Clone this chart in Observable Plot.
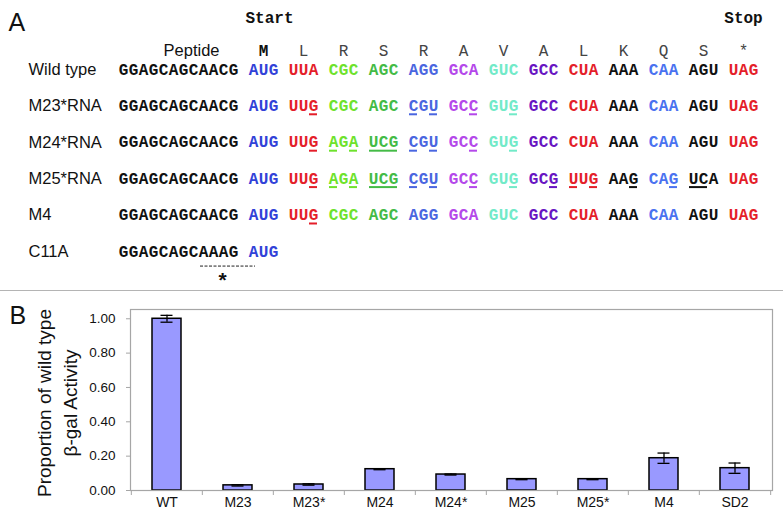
<!DOCTYPE html>
<html><head><meta charset="utf-8">
<script src="https://cdn.jsdelivr.net/npm/d3@7"></script>
<script src="https://cdn.jsdelivr.net/npm/@observablehq/plot@0.6"></script>
<style>
body{margin:0;background:#fff;width:783px;height:528px;overflow:hidden;position:relative}
svg{display:block}
#a{position:absolute;left:0;top:0}
#sep{position:absolute;left:0;top:290px;height:1px;background:#b4b4b4;width:783px}
#b{position:absolute;left:0;top:291px}
</style></head><body>
<div id="a"></div><div id="sep"></div><div id="b"></div>
<script>
// ---------- Panel A data (lowercase letter = mutated / underlined base) ----------
const rowLabels = ["Wild type", "M23*RNA", "M24*RNA", "M25*RNA", "M4", "C11A"];
const leaders = ["GGAGCAGCAACG", "GGAGCAGCAACG", "GGAGCAGCAACG", "GGAGCAGCAACG", "GGAGCAGCAACG", "GGAGCAGCAAAG"];
const wildType = ["AUG","UUA","CGC","AGC","AGG","GCA","GUC","GCC","CUA","AAA","CAA","AGU","UAG"];
const m23 = ["AUG","UUg","CGC","AGC","cGu","GCc","GUg","GCC","CUA","AAA","CAA","AGU","UAG"];
const m24 = ["AUG","UUg","aGa","ucg","cGu","GCc","GUg","GCC","CUA","AAA","CAA","AGU","UAG"];
const m25 = ["AUG","UUg","aGa","ucg","cGu","GCc","GUg","GCg","uUg","AAg","CAg","ucA","UAG"];
const m4 = ["AUG","UUg","CGC","AGC","AGG","GCA","GUC","GCC","CUA","AAA","CAA","AGU","UAG"];
const c11a = ["AUG"];
const aminoAcids = ["M","L","R","S","R","A","V","A","L","K","Q","S","*"];
const codonColors = ["#3142d8","#e41e2a","#6ee22c","#44bb46","#4a66e0","#b448ea","#72eac8","#6814c2","#e41e2a","#111111","#4a72f0","#111111","#e41e2a"];

// ---------- Panel B data ----------
const samples = ["WT","M23","M23*","M24","M24*","M25","M25*","M4","SD2"];
const activity = [1.00, 0.030, 0.035, 0.124, 0.093, 0.066, 0.066, 0.188, 0.130];
const errors = [0.020, 0.004, 0.004, 0.003, 0.003, 0.003, 0.003, 0.030, 0.030];
const yTicks = [0, 0.2, 0.4, 0.6, 0.8, 1.0];
const yLabel = "Proportion of wild type\nβ-gal Activity";

// ---------- Build panel A ----------
const MONO = "Liberation Mono, Courier New, monospace";
const SANS = "Liberation Sans, Arial, sans-serif";
const LEAD = 12, STRIDE = 4, C0 = LEAD + 1;
const rowsCodons = [wildType, m23, m24, m25, m4, c11a];
const chars = [];
rowsCodons.forEach((codons, r) => {
  [...leaders[r]].forEach((ch, k) => chars.push({row: r, pos: k, ch, color: "#111111", mut: false, cod: -1}));
  codons.forEach((cod, j) => [...cod].forEach((ch, k) => chars.push({
    row: r, pos: C0 + STRIDE * j + k, ch: ch.toUpperCase(), mut: ch !== ch.toUpperCase(), color: codonColors[j], cod: j
  })));
});
const underlines = [];
chars.filter(d => d.mut).forEach(d => {
  const last = underlines[underlines.length - 1];
  if (last && last.row === d.row && last.cod === d.cod && last.end === d.pos) last.end = d.pos + 1;
  else underlines.push({row: d.row, start: d.pos, end: d.pos + 1, color: d.color, cod: d.cod});
});
const codonCenter = j => C0 + STRIDE * j + 1.5;

const panelA = Plot.plot({
  width: 783, height: 300,
  marginLeft: 0, marginRight: 0, marginTop: 0, marginBottom: 0,
  style: {fontFamily: SANS, background: "#fff"},
  x: {type: "linear", domain: [-11.8, 66.5], range: [0, 783], axis: null},
  y: {type: "linear", domain: [-1.896, 6.071], range: [0, 290], axis: null},
  color: {type: "identity"},
  marks: [
    Plot.text(["A"], {frameAnchor: "top-left", dx: 8, dy: 13, lineAnchor: "top", textAnchor: "start", fontSize: 25, fill: "#111", fontFamily: SANS}),
    Plot.text(rowLabels, {x: -9.0, y: (d, i) => i, text: d => d, textAnchor: "start", fontSize: 16.5, fill: "#111", fontFamily: SANS}),
    Plot.text(["Peptide"], {x: LEAD - 1.9, y: -0.52, text: d => d, textAnchor: "end", fontSize: 16.5, fill: "#111", fontFamily: SANS}),
    Plot.text(["Start"], {x: codonCenter(0) + 0.6, y: -1.43, text: d => d, fontSize: 16, fontWeight: "bold", fill: "#111", fontFamily: MONO}),
    Plot.text(["Stop"], {x: codonCenter(aminoAcids.length - 1), y: -1.43, text: d => d, fontSize: 16, fontWeight: "bold", fill: "#111", fontFamily: MONO}),
    Plot.text(aminoAcids.slice(0, 1), {x: (d, j) => codonCenter(j), y: -0.52, text: d => d, fontSize: 16, fontWeight: "bold", fill: "#111", fontFamily: MONO}),
    Plot.text(aminoAcids.slice(1), {x: (d, j) => codonCenter(j + 1), y: -0.52, text: d => d, fontSize: 16, fill: "#444", fontFamily: MONO}),
    Plot.text(chars, {x: d => d.pos + 0.5, y: "row", text: "ch", fill: "color", fontSize: 16, fontWeight: "bold", fontFamily: MONO}),
    Plot.ruleY(underlines, {y: d => d.row + 0.23, x1: d => d.start + 0.1, x2: d => d.end - 0.1, stroke: "color", strokeWidth: 2}),
    Plot.ruleY([5.40], {x1: 8.2, x2: 13.7, stroke: "#222", strokeWidth: 1, strokeDasharray: "3,1.5"}),
    Plot.text(["*"], {x: 10.4, y: 5.80, text: d => d, fontSize: 21, fontWeight: "bold", fill: "#111", fontFamily: SANS})
  ]
});
document.getElementById("a").appendChild(panelA);

// ---------- Build panel B ----------
const W = 783, H = 237, mL = 130, mR = 11, mT = 18, mB = 38;
const step = (W - mL - mR) / samples.length;
const bars = samples.map((s, i) => ({s, v: activity[i], e: errors[i]}));
const panelB = Plot.plot({
  width: W, height: H, marginLeft: mL, marginRight: mR, marginTop: mT, marginBottom: mB,
  style: {fontFamily: SANS, background: "transparent", color: "#111"},
  x: {domain: samples, paddingInner: 0.59, paddingOuter: 0.295, label: null},
  y: {domain: [0, 1.054], label: null},
  marks: [
    Plot.barY(bars, {x: "s", y: "v", fill: "#9999ff", stroke: "#000", strokeWidth: 1.5}),
    Plot.ruleX(bars, {x: "s", y1: d => d.v - d.e, y2: d => d.v + d.e, stroke: "#000", strokeWidth: 1.3}),
    Plot.tickY(bars, {x: "s", y: d => d.v + d.e, insetLeft: 8.5, insetRight: 8.5, stroke: "#000", strokeWidth: 1.3}),
    Plot.tickY(bars, {x: "s", y: d => d.v - d.e, insetLeft: 8.5, insetRight: 8.5, stroke: "#000", strokeWidth: 1.3}),
    Plot.frame({stroke: "#a6a6a6", strokeWidth: 1.2}),
    Plot.ruleX(samples, {x: d => d, y1: 0, y2: 0, insetBottom: -5, dx: -step / 2, stroke: "#a6a6a6"}),
    Plot.ruleX(samples.slice(-1), {x: d => d, y1: 0, y2: 0, insetBottom: -5, dx: step / 2, stroke: "#a6a6a6"}),
    Plot.axisY({ticks: yTicks, tickFormat: d3.format(".2f"), tickSize: 4, tickPadding: 11, fontSize: 13.5, stroke: "#a6a6a6", fill: "#111"}),
    Plot.axisX({tickSize: 0, tickPadding: 7, fontSize: 14, fill: "#111"}),
    Plot.text([yLabel], {frameAnchor: "left", dx: -75, dy: 3, rotate: -90, textAnchor: "middle", lineAnchor: "middle", text: d => d, fontSize: 19, lineHeight: 1.37, fill: "#111"}),
    Plot.text(["B"], {frameAnchor: "top-left", dx: -121, dy: -3, lineAnchor: "top", textAnchor: "start", fontSize: 25, fill: "#111"})
  ]
});
document.getElementById("b").appendChild(panelB);
</script>
</body></html>
